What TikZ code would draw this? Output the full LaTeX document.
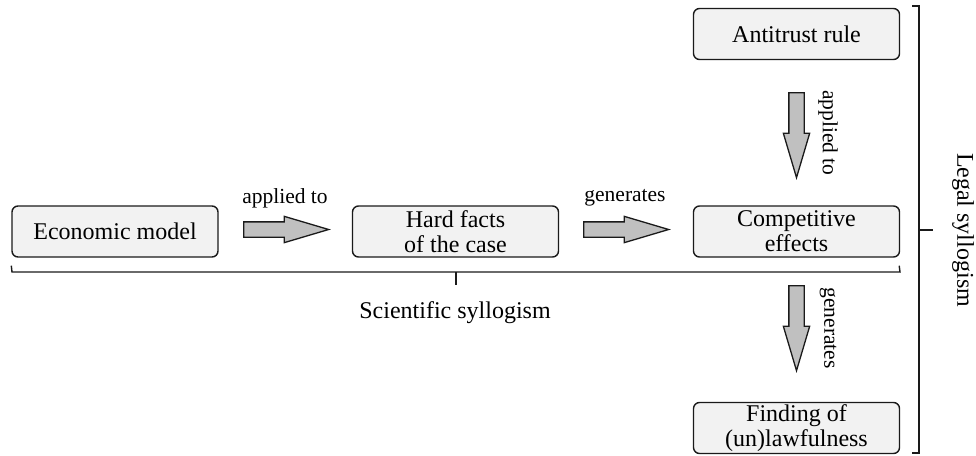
\documentclass[tikz,border=0pt]{standalone}
\usepackage{fontspec}
\setmainfont{Liberation Serif}
\usepackage{tikz}
\usetikzlibrary{calc,positioning,shapes.arrows}
\definecolor{boxFill}{HTML}{F2F2F2}
\definecolor{arrowFill}{HTML}{C0C0C0}
\definecolor{lineDark}{HTML}{1A1A1A}

\begin{document}
\begin{tikzpicture}[
  x=1pt, y=-1pt,
  box/.style={draw=lineDark, line width=1.4pt, fill=boxFill, rounded corners=6pt,
    minimum width=206pt, minimum height=51pt, align=center, inner sep=0pt,
    font=\fontsize{24}{25}\selectfont},
  blockarrow/.style={single arrow, draw=lineDark, line width=1.3pt, fill=arrowFill,
    minimum height=85pt, minimum width=25pt, inner xsep=0pt, inner ysep=7pt,
    single arrow head extend=5.5pt, single arrow tip angle=33, anchor=tail},
  label node/.style={font=\fontsize{21.5}{23}\selectfont, inner sep=0pt},
  title node/.style={font=\fontsize{24}{25}\selectfont, inner sep=0pt},
  bracket/.style={draw=lineDark, line width=1.4pt},
]
\useasboundingbox (0,0) rectangle (976,455);

% boxes
\node[box] (econ) at (115,231.5) {Economic model};
\node[box] (facts) at (455.5,231.5) {Hard facts\\of the case};
\node[box] (effects) at (796.5,231.5) {Competitive\\effects};
\node[box] (rule) at (796.5,34) {Antitrust rule};
\node[box] (finding) at (796.5,428) {Finding of\\(un)lawfulness};

% block arrows
\node[blockarrow] (a1) at (243,229.5) {};
\node[blockarrow] (a2) at (583,229.5) {};
\node[blockarrow, rotate=-90] (a3) at (796.5,92) {};
\node[blockarrow, rotate=-90] (a4) at (796.5,285) {};

% arrow labels
\node[label node] at (285,198) {applied to};
\node[label node] at (625,198) {generates};
\node[label node, rotate=-90] at (828,133) {applied to};
\node[label node, rotate=-90] at (828,328) {generates};

% scientific syllogism bracket
\draw[bracket] ($(econ.south west)+(0,8)$) -- (12,272) -- (900,272) -- ($(effects.south east)+(-1,8)$);
\draw[bracket] (456,272) -- (456,285);
\node[title node] (sci) at (455,313) {Scientific syllogism};

% legal syllogism bracket
\draw[bracket] (912,6) -- (919,6) -- (919,453) -- (912,453);
\draw[bracket] (919,230) -- (933,230);
\node[title node, rotate=-90] (legal) at (963,230) {Legal syllogism};
\end{tikzpicture}
\end{document}
